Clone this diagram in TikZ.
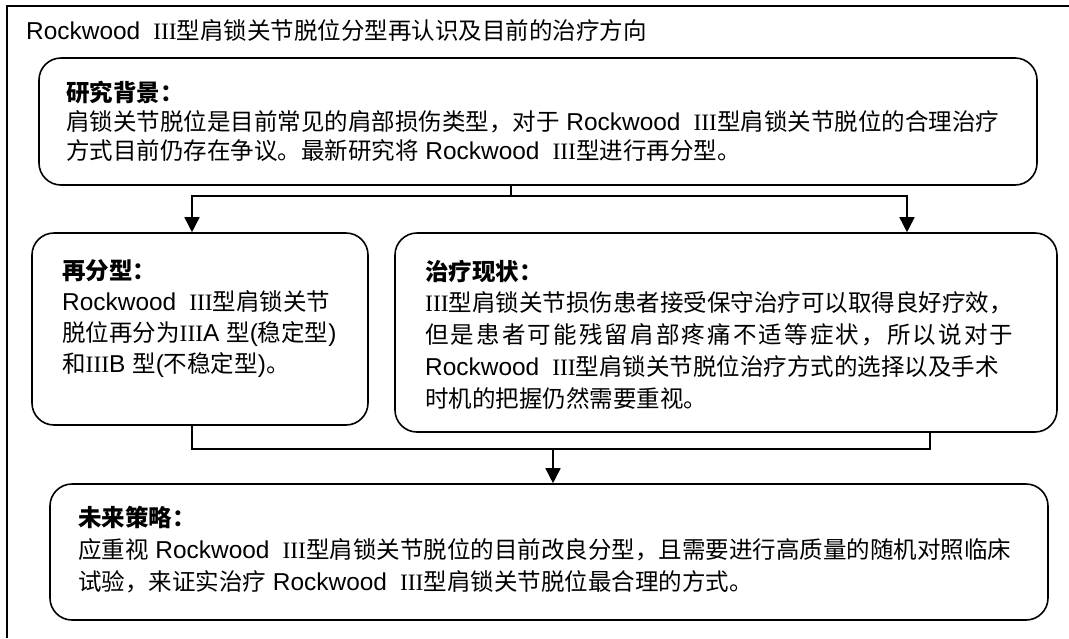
\documentclass[tikz,border=0pt]{standalone}
\usepackage{fontspec}
\usetikzlibrary{arrows.meta}
\setmainfont{Liberation Sans}[Scale=1.04]
\newfontfamily\cjk{Noto Sans CJK SC}
\newfontfamily\romser{Liberation Serif}
\newcommand\threeR{{\romser III}}
\newcommand\cj[1]{{\cjk #1}}
\newcommand\rwiii{Rockwood\hspace{13pt}\threeR}
\makeatletter
\def\spreadin#1{\ifx#1\@nil\else#1\hfil\expandafter\spreadin\fi}
\newcommand\spreadline[2]{\hbox to #1{\cjk\spreadin#2\@nil\unskip}}
\makeatother
\begin{document}
\begin{tikzpicture}[x=1pt,y=-1pt,
  box/.style={draw, line width=1.6pt, rounded corners=22pt, inner sep=0pt},
  txt/.style={anchor=west, align=left, inner sep=0pt},
  conn/.style={line width=1.6pt},
  arr/.style={line width=1.6pt, -{Triangle[width=15pt,length=15pt]}}]
\useasboundingbox (0,0) rectangle (1069,638);
\fill[white] (0,0) rectangle (1069,638);
% outer frame
\draw[line width=1.2pt] (7,638) -- (7,6) -- (1069,6);
% title
\node[txt, font=\fontsize{23.5}{29}\selectfont] (title) at (26,30)
  {\rwiii\cj{型肩锁关节脱位分型再认识及目前的治疗方向}};
% boxes
\node[box, minimum width=998pt, minimum height=127pt] (topbox) at (538,121.5) {};
\node[box, minimum width=336pt, minimum height=192pt] (leftbox) at (200,329) {};
\node[box, minimum width=662pt, minimum height=199pt] (rightbox) at (726,332.5) {};
\node[box, minimum width=998pt, minimum height=136pt] (bottombox) at (549,552) {};
% texts
\node[txt, font=\fontsize{23.5}{29}\selectfont] (toptext) at (66,121)
  {{\cjk\bfseries 研究背景：}\\
   \cj{肩锁关节脱位是目前常见的肩部损伤类型，对于} \rwiii\cj{型肩锁关节脱位的合理治疗}\\
   \cj{方式目前仍存在争议。最新研究将} \rwiii\cj{型进行再分型。}};
\node[txt, font=\fontsize{23.5}{31}\selectfont] (lefttext) at (62,318.5)
  {{\cjk\bfseries 再分型：}\\
   \rwiii\cj{型肩锁关节}\\
   \cj{脱位再分为}\threeR A \cj{型}(\cj{稳定型})\\
   \cj{和}\threeR B \cj{型}(\cj{不稳定型})\cj{。}};
\node[txt, font=\fontsize{23.5}{31.75}\selectfont] (righttext) at (425,334.5)
  {{\cjk\bfseries 治疗现状：}\\
   \threeR\cj{型肩锁关节损伤患者接受保守治疗可以取得良好疗效，}\\
   \spreadline{588pt}{但是患者可能残留肩部疼痛不适等症状，所以说对于}\\
   \rwiii\cj{型肩锁关节脱位治疗方式的选择以及手术}\\
   \cj{时机的把握仍然需要重视。}};
\node[txt, font=\fontsize{23.5}{32}\selectfont] (bottomtext) at (78,550)
  {{\cjk\bfseries 未来策略：}\\
   \cj{应重视} \rwiii\cj{型肩锁关节脱位的目前改良分型，且需要进行高质量的随机对照临床}\\
   \cj{试验，来证实治疗} \rwiii\cj{型肩锁关节脱位最合理的方式。}};
% connectors
\coordinate (j1) at (511,196);
\coordinate (la) at (192,0);
\coordinate (ra) at (907,0);
\coordinate (rb) at (930,0);
\coordinate (j2) at (553,449);
\draw[conn] (topbox.south -| j1) -- (j1);
\draw[arr] (j1) -| (leftbox.north -| la);
\draw[arr] (j1) -| (rightbox.north -| ra);
\draw[conn] (leftbox.south -| la) |- (j2);
\draw[conn] (rightbox.south -| rb) |- (j2);
\draw[arr] (j2) -- (bottombox.north -| j2);
\end{tikzpicture}
\end{document}
